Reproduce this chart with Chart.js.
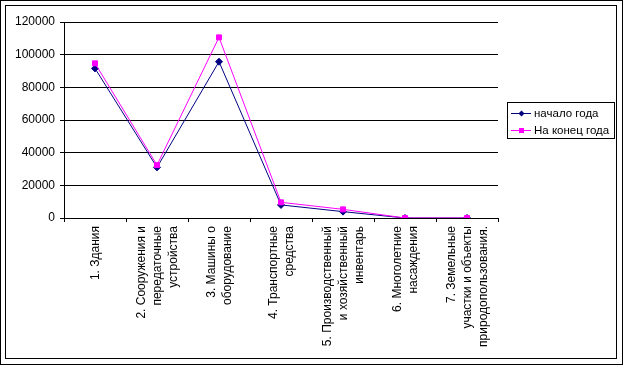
<!DOCTYPE html>
<html>
<head>
<meta charset="utf-8">
<script src="https://cdn.jsdelivr.net/npm/chart.js@4.4.0/dist/chart.umd.min.js"></script>
<style>
  html, body { margin: 0; padding: 0; background: #fff; }
  #wrap { width: 623px; height: 365px; position: relative; }
</style>
</head>
<body>
<div id="wrap"><canvas id="fixedChart"></canvas></div>
<script>
const categories = [
  ['1. Здания'],
  ['2. Сооружения и', 'передаточные', 'устройства'],
  ['3. Машины о', 'оборудование'],
  ['4. Транспортные', 'средства'],
  ['5. Производственный', 'и хозяйственный', 'инвентарь'],
  ['6. Многолетние', 'насаждения'],
  ['7. Земельные', 'участки и объекты', 'природопользования.']
];
const startYear = [91600, 31000, 95700, 8000, 3900, 0, 0];
const endYear   = [94700, 32400, 110600, 9600, 5300, 0, 0];
const seriesNames = ['начало года', 'На конец года'];
const yTicks = [0, 20000, 40000, 60000, 80000, 100000, 120000];

const FONT = 'Liberation Sans, Arial, sans-serif';

// frame, rotated category labels and boxed legend
const decorPlugin = {
  id: 'decor',
  afterDraw(chart) {
    const ctx = chart.ctx;
    const x = chart.scales.x;
    ctx.save();
    ctx.strokeStyle = '#000';
    ctx.lineWidth = 1;
    ctx.strokeRect(0.5, 0.5, 622, 364);
    ctx.strokeRect(5.5, 5.5, 611, 353);

    ctx.fillStyle = '#000';
    ctx.font = '12px ' + FONT;
    ctx.textAlign = 'right';
    ctx.textBaseline = 'middle';
    categories.forEach((lines, i) => {
      const px = x.getPixelForTick(i);
      ctx.save();
      ctx.translate(px + 1, x.top + 8);
      ctx.rotate(-Math.PI / 2);
      lines.forEach((ln, j) => {
        ctx.fillText(ln, 0, (j - (lines.length - 1) / 2) * 16);
      });
      ctx.restore();
    });

    // legend
    const lx = 507, ly = 102, lw = 107, lh = 36;
    ctx.strokeRect(lx + 0.5, ly + 0.5, lw, lh);
    ctx.textAlign = 'left';
    ctx.font = '11.5px ' + FONT;
    chart.data.datasets.forEach((ds, i) => {
      const cy = ly + 11 + i * 17;
      ctx.strokeStyle = ds.borderColor;
      ctx.beginPath();
      ctx.moveTo(lx + 4, cy + 0.5);
      ctx.lineTo(lx + 24, cy + 0.5);
      ctx.stroke();
      ctx.fillStyle = ds.borderColor;
      if (ds.pointStyle === 'rect') {
        ctx.fillRect(lx + 12, cy - 2, 5, 5);
      } else {
        ctx.beginPath();
        ctx.moveTo(lx + 14.5, cy - 2.5);
        ctx.lineTo(lx + 17.5, cy + 0.5);
        ctx.lineTo(lx + 14.5, cy + 3.5);
        ctx.lineTo(lx + 11.5, cy + 0.5);
        ctx.closePath();
        ctx.fill();
      }
      ctx.fillStyle = '#000';
      ctx.fillText(ds.label, lx + 27, cy + 1);
    });
    ctx.restore();
  }
};

new Chart(document.getElementById('fixedChart'), {
  type: 'line',
  data: {
    labels: categories.map(c => c.join(' ')),
    datasets: [
      {
        label: seriesNames[0],
        data: startYear,
        borderColor: '#000080',
        backgroundColor: '#000080',
        pointStyle: 'rectRot',
        pointRadius: 3.5,
        pointBorderWidth: 1,
        borderWidth: 1,
        order: 1
      },
      {
        label: seriesNames[1],
        data: endYear,
        borderColor: '#FF00FF',
        backgroundColor: '#FF00FF',
        pointStyle: 'rect',
        pointRadius: 3.5,
        pointBorderWidth: 1,
        borderWidth: 1,
        order: 0
      }
    ]
  },
  options: {
    responsive: true,
    maintainAspectRatio: false,
    animation: false,
    layout: { padding: { left: 0, top: 22, right: 125, bottom: 0 } },
    plugins: { legend: { display: false }, tooltip: { enabled: false } },
    scales: {
      x: {
        offset: true,
        afterFit: s => { s.height = 147; },
        grid: { offset: true, drawOnChartArea: false, color: '#000', tickLength: 4 },
        border: { color: '#000' },
        ticks: { display: false }
      },
      y: {
        min: 0,
        max: 120000,
        afterFit: s => { s.width = 64; },
        afterBuildTicks: s => { s.ticks = yTicks.map(v => ({ value: v })); },
        grid: { color: '#000', tickLength: 4 },
        border: { color: '#000' },
        ticks: { color: '#000', padding: 5, font: { family: FONT, size: 12 }, callback: v => String(v) }
      }
    }
  },
  plugins: [decorPlugin]
});
</script>
</body>
</html>
